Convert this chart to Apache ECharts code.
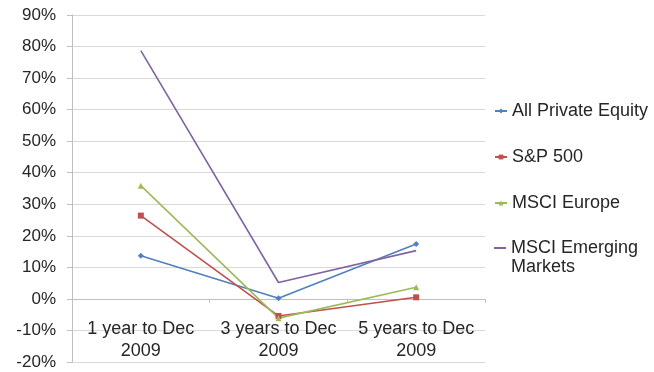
<!DOCTYPE html>
<html>
<head>
<meta charset="utf-8">
<script src="https://cdn.jsdelivr.net/npm/echarts@6/dist/echarts.min.js"></script>
<style>
  html, body { margin: 0; padding: 0; background: #ffffff; }
  #chart { width: 654px; height: 372px; }
</style>
</head>
<body>
<div id="chart"></div>
<script>
// Annualised returns (%) for each horizon
const periods = ['1 year to Dec\n2009', '3 years to Dec\n2009', '5 years to Dec\n2009'];
const allPrivateEquity = [13.7, 0.2, 17.4];
const sp500 = [26.4, -5.4, 0.5];
const msciEurope = [35.9, -6.1, 3.7];
const msciEmerging = [78.7, 5.2, 15.3];
const yMin = -20, yMax = 90, yStep = 10;

const FONT = '"Liberation Sans", Arial, sans-serif';
const TEXT = '#262626';
const EM_NAME = 'MSCI Emerging Markets';

function lineSeries(name, data, color, symbol) {
  return {
    name: name,
    type: 'line',
    data: data,
    symbol: symbol,
    symbolSize: 6,
    lineStyle: { color: color, width: 1.6 },
    itemStyle: { color: color },
    emphasis: { disabled: true },
    animation: false
  };
}

const chart = echarts.init(document.getElementById('chart'), null, { renderer: 'canvas' });
chart.setOption({
  backgroundColor: '#ffffff',
  animation: false,
  grid: { left: 72, right: 169, top: 15, bottom: 10, outerBoundsMode: 'none', containLabel: false },
  xAxis: {
    type: 'category',
    data: periods,
    boundaryGap: true,
    axisLine: { onZero: true, lineStyle: { color: '#bfbfbf', width: 1 } },
    axisTick: { show: true, length: 4, lineStyle: { color: '#bfbfbf' } },
    axisLabel: {
      interval: 0, hideOverlap: false, inside: true,
      margin: 0, color: TEXT, fontFamily: FONT, fontSize: 18, lineHeight: 22
    },
    splitLine: { show: false }
  },
  yAxis: {
    type: 'value',
    min: yMin, max: yMax, interval: yStep,
    axisLine: { show: true, lineStyle: { color: '#bfbfbf', width: 1 } },
    axisTick: { show: true, length: 5, lineStyle: { color: '#bfbfbf' } },
    axisLabel: {
      formatter: '{value}%', margin: 16, color: TEXT, fontFamily: FONT, fontSize: 17
    },
    splitLine: { show: true, lineStyle: { color: '#d9d9d9', width: 1 } }
  },
  legend: [
    {
      orient: 'vertical',
      left: 494, top: 100, padding: 0,
      itemWidth: 12, itemHeight: 6, itemGap: 24,
      data: ['All Private Equity', 'S&P 500', 'MSCI Europe'],
      textStyle: { color: TEXT, fontFamily: FONT, fontSize: 18, lineHeight: 22 },
      selectedMode: false
    },
    {
      // first line of the wrapped legend entry; the second line is drawn below
      orient: 'vertical',
      left: 494, top: 237, padding: 0,
      itemWidth: 12, itemHeight: 2,
      data: [{ name: EM_NAME, icon: 'rect' }],
      formatter: function () { return 'MSCI Emerging'; },
      textStyle: { color: TEXT, fontFamily: FONT, fontSize: 18, lineHeight: 22 },
      selectedMode: false
    }
  ],
  graphic: [
    {
      type: 'text',
      left: 511, top: 258,
      style: { text: 'Markets', fill: TEXT, font: '18px ' + FONT }
    }
  ],
  series: [
    lineSeries('All Private Equity', allPrivateEquity, '#4f81bd', 'diamond'),
    lineSeries('S&P 500', sp500, '#c0504d', 'rect'),
    lineSeries('MSCI Europe', msciEurope, '#9bbb59', 'triangle'),
    lineSeries(EM_NAME, msciEmerging, '#8064a2', 'none')
  ]
});
</script>
</body>
</html>
